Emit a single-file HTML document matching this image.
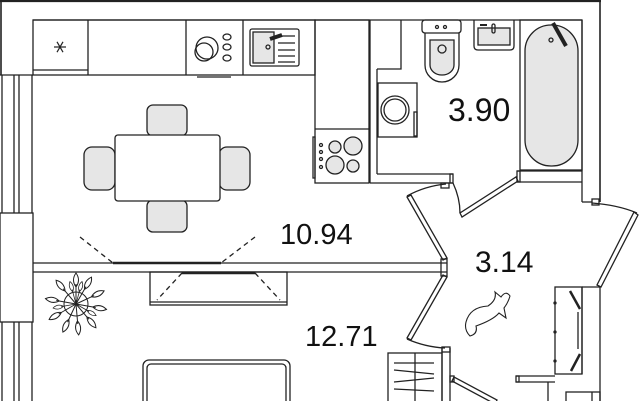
<!DOCTYPE html>
<html><head><meta charset="utf-8"><style>
html,body{margin:0;padding:0;background:#fff;width:640px;height:401px;overflow:hidden}
svg{display:block}
text{font-family:"Liberation Sans",sans-serif;fill:#111}
</style></head><body>
<svg width="640" height="401" viewBox="0 0 640 401" xmlns="http://www.w3.org/2000/svg" fill="none" stroke="#222" stroke-width="1.3">
<line x1="0" y1="1" x2="601" y2="1" stroke-width="2.2"/>
<line x1="600" y1="0" x2="600" y2="202" stroke-width="1.6"/>
<line x1="1" y1="0" x2="1" y2="75" stroke-width="1.6"/>
<line x1="0" y1="75" x2="33" y2="75"/>
<line x1="33" y1="20" x2="582" y2="20"/>
<line x1="2" y1="75" x2="2" y2="401"/>
<line x1="14" y1="75" x2="14" y2="401"/>
<line x1="19" y1="75" x2="19" y2="401"/>
<line x1="32" y1="75" x2="32" y2="401"/>
<rect x="0" y="213" width="33" height="109" fill="#fff"/>
<rect x="33" y="20" width="282" height="55"/>
<line x1="88" y1="20" x2="88" y2="75"/>
<line x1="186" y1="20" x2="186" y2="75"/>
<line x1="243" y1="20" x2="243" y2="75"/>
<line x1="33" y1="70" x2="88" y2="70"/>
<line x1="197" y1="77" x2="231" y2="77"/>
<g transform="translate(60,47)" stroke-width="1.2">
<line x1="-6" y1="0" x2="6" y2="0"/><line x1="-3" y1="-5.2" x2="3" y2="5.2"/><line x1="3" y1="-5.2" x2="-3" y2="5.2"/>
</g>
<circle cx="204" cy="52" r="9"/><circle cx="207" cy="48" r="11"/>
<ellipse cx="227" cy="37" rx="4" ry="3"/><ellipse cx="227" cy="47" rx="4" ry="3"/><ellipse cx="227" cy="58" rx="4" ry="3"/>
<rect x="250" y="29" width="49" height="37" rx="2"/>
<rect x="253" y="32" width="21" height="31" fill="#e6e6e6"/>
<circle cx="268" cy="47" r="2"/>
<line x1="270" y1="39" x2="282" y2="35" stroke-width="4"/>
<line x1="278" y1="36" x2="295" y2="36"/><line x1="278" y1="43" x2="295" y2="43"/><line x1="278" y1="50" x2="295" y2="50"/><line x1="278" y1="56" x2="295" y2="56"/><line x1="278" y1="62" x2="295" y2="62"/>
<rect x="315" y="20" width="54" height="163"/>
<line x1="315" y1="129" x2="369" y2="129"/>
<rect x="313" y="137" width="2" height="41"/>
<circle cx="335" cy="147" r="6" fill="#e6e6e6"/><circle cx="353" cy="146" r="9" fill="#e6e6e6"/>
<circle cx="335" cy="165" r="9" fill="#e6e6e6"/><circle cx="353" cy="166" r="6" fill="#e6e6e6"/>
<circle cx="321" cy="145" r="1.5"/><circle cx="321" cy="152" r="1.5"/><circle cx="321" cy="159" r="1.5"/><circle cx="321" cy="167" r="1.5"/>
<line x1="370" y1="20" x2="370" y2="183"/>
<line x1="377" y1="69" x2="377" y2="174"/>
<polyline points="401,20 401,69 377,69"/>
<line x1="370" y1="183" x2="453" y2="183"/>
<line x1="377" y1="174" x2="453" y2="174"/>
<rect x="450" y="174" width="3" height="9"/>
<rect x="441" y="183" width="8" height="5"/>
<line x1="517" y1="171" x2="582" y2="171"/>
<line x1="517" y1="182" x2="582" y2="182"/>
<rect x="517" y="171" width="3" height="11"/>
<line x1="582" y1="20" x2="582" y2="202"/>
<line x1="582" y1="202" x2="592" y2="202"/>
<rect x="592" y="199" width="7" height="6"/>
<rect x="378" y="83" width="39" height="54"/>
<circle cx="395" cy="110" r="14"/><circle cx="395" cy="110" r="11"/>
<rect x="414" y="112" width="3" height="24"/>
<rect x="422" y="20" width="39" height="13" rx="3"/>
<circle cx="437" cy="27" r="1.5"/><circle cx="445" cy="27" r="1.5"/>
<path d="M425,33 L425,65 A17,17 0 0 0 459,65 L459,33"/>
<path d="M430,40 L430,65 A12,10 0 0 0 454,65 L454,40 Z" fill="#e6e6e6"/>
<circle cx="442" cy="49" r="4"/>
<path d="M474,20 L474,46 Q474,50 478,50 L510,50 Q514,50 514,46 L514,20"/>
<rect x="478" y="28" width="32" height="17" fill="#e6e6e6"/>
<line x1="480" y1="25" x2="487" y2="25" stroke-width="2"/>
<rect x="492" y="24" width="3" height="9" rx="1.5"/>
<rect x="520" y="20" width="62" height="150"/>
<rect x="525" y="25" width="53" height="141" rx="26" fill="#e6e6e6"/>
<circle cx="551" cy="40" r="2"/>
<line x1="553" y1="23" x2="566" y2="46" stroke-width="4"/>
<text x="448" y="121" font-size="32" stroke="none">3.90</text>
<rect x="147" y="105" width="40" height="31" rx="6" fill="#e6e6e6"/>
<rect x="84" y="147" width="31" height="43" rx="8" fill="#e6e6e6"/>
<rect x="219" y="147" width="31" height="43" rx="8" fill="#e6e6e6"/>
<rect x="147" y="200" width="40" height="32" rx="6" fill="#e6e6e6"/>
<rect x="115" y="135" width="105" height="66" rx="3" fill="#fff"/>
<text x="280" y="244" font-size="29" stroke="none">10.94</text>
<line x1="33" y1="263" x2="447" y2="263"/>
<line x1="33" y1="272" x2="447" y2="272"/>
<line x1="113" y1="263" x2="221" y2="263" stroke-width="2.5"/>
<line x1="80" y1="237" x2="113" y2="263" stroke-dasharray="5,4"/>
<line x1="255" y1="237" x2="221" y2="263" stroke-dasharray="5,4"/>
<rect x="150" y="272" width="137" height="33"/>
<line x1="150" y1="302" x2="287" y2="302"/>
<line x1="182" y1="273" x2="255" y2="273" stroke-width="2.5"/>
<line x1="182" y1="273" x2="157" y2="300" stroke-dasharray="5,4"/>
<line x1="255" y1="273" x2="280" y2="300" stroke-dasharray="5,4"/>
<g transform="translate(76,304)" stroke-width="1">
<circle r="12"/>
<g id="lf"><line x1="0" y1="0" x2="0" y2="-20"/><path d="M0,-17 Q-5,-24 0,-31 Q5,-24 0,-17 Z"/></g>
<use href="#lf" transform="rotate(30)"/><use href="#lf" transform="rotate(65)"/><use href="#lf" transform="rotate(100)"/>
<use href="#lf" transform="rotate(140)"/><use href="#lf" transform="rotate(175)"/><use href="#lf" transform="rotate(205)"/>
<use href="#lf" transform="rotate(240)"/><use href="#lf" transform="rotate(280)"/><use href="#lf" transform="rotate(320)"/>
<use href="#lf" transform="rotate(15) scale(0.75)"/><use href="#lf" transform="rotate(120) scale(0.75)"/><use href="#lf" transform="rotate(260) scale(0.75)"/><use href="#lf" transform="rotate(345) scale(0.75)"/>
</g>
<rect x="143" y="360" width="147" height="60" rx="6"/>
<rect x="147" y="364" width="139" height="56" rx="4"/>
<text x="305" y="346" font-size="29" stroke="none">12.71</text>
<rect x="441" y="259" width="6" height="17"/>
<path d="M407,197 L411,195 L447,258 L443,260 Z"/>
<path d="M407,196 Q425,186 446,184"/>
<path d="M443,275 L447,277 L411,340 L407,338 Z"/>
<path d="M407,339 Q425,347 445,348"/>
<path d="M460,213 L462,217 L518,181 L516,177 Z"/>
<path d="M453,183 Q460,198 460,213"/>
<path d="M597,285 L601,287 L638,215 L634,212 Z"/>
<path d="M592,203 Q618,205 637,213"/>
<text x="475" y="272" font-size="30" stroke="none">3.14</text>
<path d="M466,322 Q470,307 488,306 Q497,300 495,292 L501,297 Q506,290 510,296 Q508,303 504,308 L506,318 L499,313 Q493,320 476,326 Q478,334 470,336 Q464,330 466,322 Z" stroke-width="1.1"/>
<line x1="600" y1="287" x2="600" y2="401"/>
<line x1="582" y1="287" x2="600" y2="287"/>
<line x1="582" y1="287" x2="582" y2="374"/>
<rect x="555" y="287" width="27" height="87"/>
<line x1="578" y1="312" x2="578" y2="349"/>
<path d="M570,291 L580,309" stroke-width="2.5"/>
<path d="M571,371 L580,354" stroke-width="2.5"/>
<circle cx="555" cy="303" r="1"/><circle cx="555" cy="332" r="1"/><circle cx="555" cy="361" r="1"/>
<line x1="516" y1="376" x2="555" y2="376"/>
<line x1="516" y1="382" x2="555" y2="382"/>
<rect x="516" y="376" width="3" height="6"/>
<line x1="548" y1="382" x2="548" y2="401"/>
<rect x="566" y="392" width="34" height="20"/>
<line x1="592" y1="392" x2="592" y2="401"/>
<rect x="388" y="353" width="54" height="60"/>
<line x1="415" y1="353" x2="415" y2="401"/>
<line x1="394" y1="363" x2="434" y2="363"/><line x1="394" y1="370" x2="434" y2="374"/>
<line x1="394" y1="382" x2="434" y2="378"/><line x1="394" y1="389" x2="434" y2="391"/>
<line x1="442" y1="348" x2="442" y2="401"/><line x1="450" y1="348" x2="450" y2="401"/>
<rect x="442" y="347" width="8" height="5"/>
<rect x="450" y="376" width="4" height="6"/>
<path d="M452,381 L495,404 L497,400 L454,377 Z"/>
</svg>
</body></html>
